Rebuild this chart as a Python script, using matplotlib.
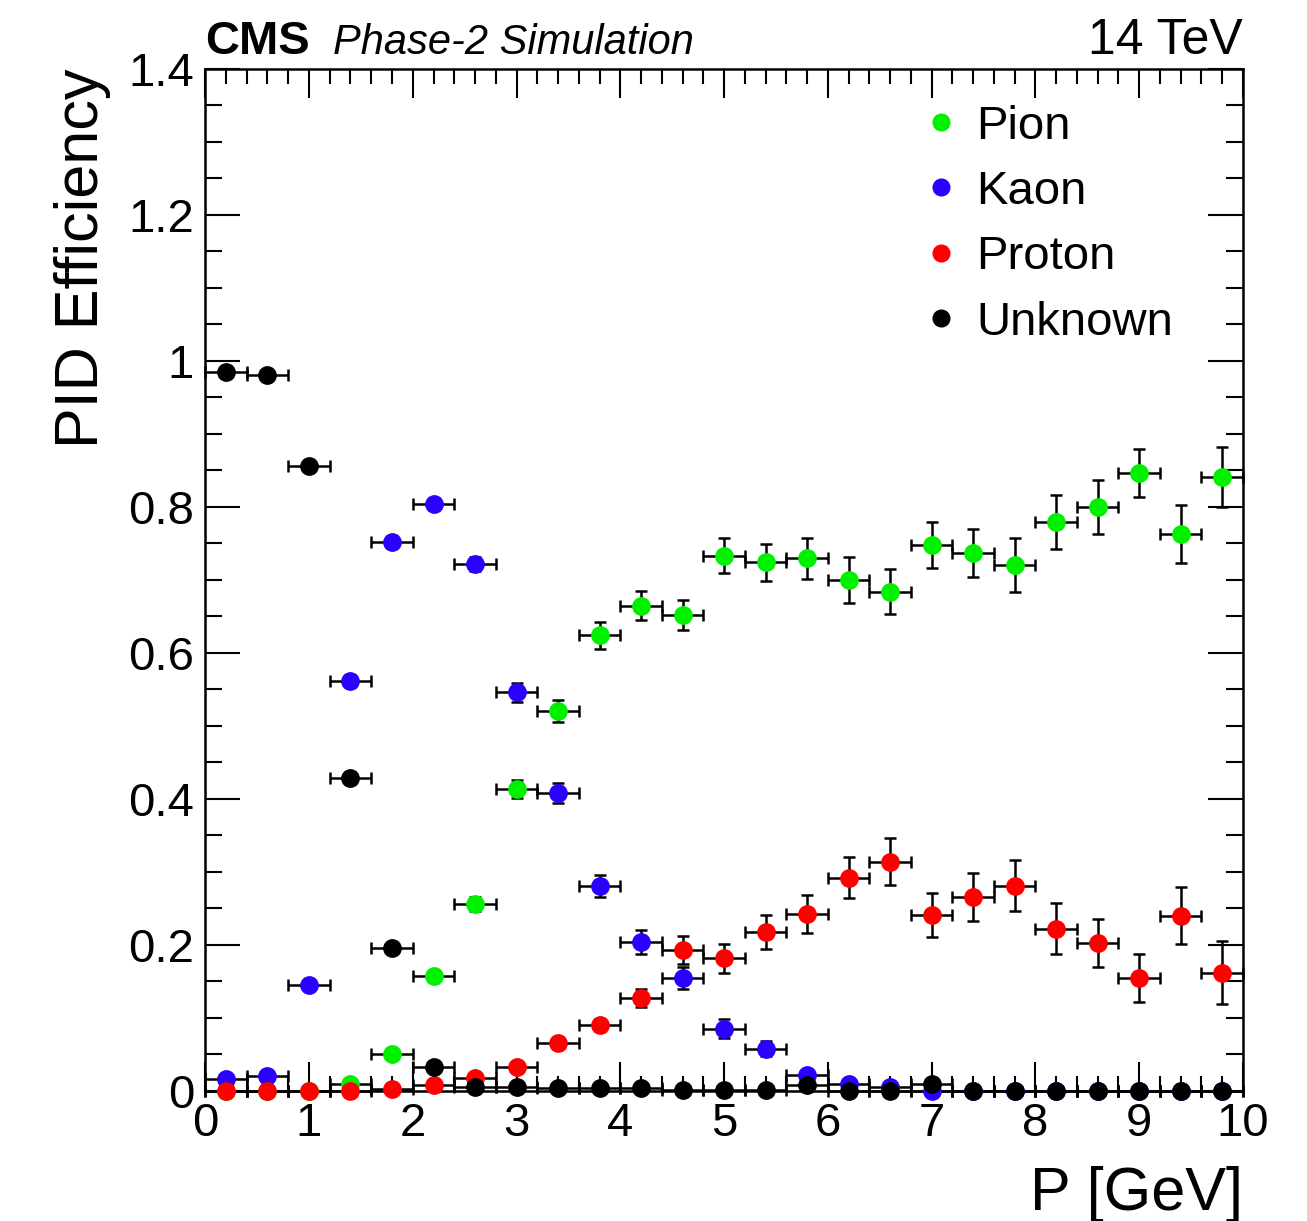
import matplotlib
matplotlib.use("Agg")
import matplotlib.pyplot as plt
from matplotlib.ticker import MultipleLocator
from matplotlib.lines import Line2D

plt.rcParams['font.family'] = ['Liberation Sans', 'DejaVu Sans']

# bin centres in P [GeV], bin width 0.4
p = [0.2, 0.6, 1.0, 1.4, 1.8, 2.2, 2.6, 3.0, 3.4, 3.8, 4.2, 4.6, 5.0,
     5.4, 5.8, 6.2, 6.6, 7.0, 7.4, 7.8, 8.2, 8.6, 9.0, 9.4, 9.8]
p_err = [0.2] * len(p)

pion = [0.0, 0.0, 0.0, 0.01, 0.05, 0.158, 0.256, 0.414, 0.52, 0.624, 0.665, 0.652,
        0.733, 0.724, 0.73, 0.70, 0.684, 0.748, 0.737, 0.72, 0.78, 0.80, 0.847, 0.763, 0.841]
pion_err = [0.0, 0.0, 0.0, 0.003, 0.005, 0.006, 0.01, 0.012, 0.015, 0.018, 0.02, 0.021,
            0.024, 0.025, 0.028, 0.031, 0.031, 0.031, 0.033, 0.037, 0.037, 0.037, 0.033, 0.04, 0.041]

kaon = [0.016, 0.02, 0.145, 0.562, 0.752, 0.804, 0.722, 0.546, 0.408, 0.281, 0.204, 0.155,
        0.085, 0.058, 0.022, 0.01, 0.005, 0.0, 0.0, 0.0, 0.0, 0.0, 0.0, 0.0, 0.0]
kaon_err = [0.002, 0.003, 0.005, 0.008, 0.008, 0.008, 0.01, 0.013, 0.014, 0.015, 0.016, 0.015,
            0.013, 0.01, 0.006, 0.004, 0.003, 0.002, 0.0, 0.0, 0.0, 0.0, 0.0, 0.0, 0.0]

proton = [0.0, 0.0, 0.0, 0.0, 0.003, 0.008, 0.018, 0.033, 0.066, 0.09, 0.127, 0.193,
          0.182, 0.218, 0.242, 0.292, 0.314, 0.241, 0.266, 0.281, 0.222, 0.203, 0.155, 0.24, 0.162]
proton_err = [0.0, 0.0, 0.0, 0.0, 0.001, 0.002, 0.003, 0.005, 0.006, 0.008, 0.012, 0.019,
              0.02, 0.023, 0.026, 0.028, 0.032, 0.03, 0.033, 0.035, 0.035, 0.033, 0.033, 0.039, 0.043]

unknown = [0.985, 0.981, 0.856, 0.429, 0.196, 0.033, 0.005, 0.005, 0.004, 0.004, 0.004, 0.002,
           0.002, 0.002, 0.008, 0.0, 0.0, 0.01, 0.0, 0.0, 0.0, 0.0, 0.0, 0.0, 0.0]
unknown_err = [0.002, 0.003, 0.005, 0.008, 0.007, 0.004, 0.002, 0.002, 0.002, 0.002, 0.002, 0.002,
               0.002, 0.002, 0.004, 0.0, 0.0, 0.008, 0.0, 0.0, 0.0, 0.0, 0.0, 0.0, 0.0]

labels = ["Pion", "Kaon", "Proton", "Unknown"]
colors = ["#00f000", "#2a00ff", "#ff0000", "#000000"]

fig = plt.figure(figsize=(13.07, 12.21), dpi=100)
ax = fig.add_axes([0.157, 0.1065, 0.794, 0.837])

series = [(pion, pion_err), (kaon, kaon_err), (proton, proton_err), (unknown, unknown_err)]
for (vals, errs), col, lab in zip(series, colors, labels):
    ax.errorbar(p, vals, xerr=p_err, yerr=errs, fmt='o', color=col, ms=12.5,
                mec=col, ecolor='black', elinewidth=1.8, capsize=4.5, capthick=1.8,
                clip_on=False, zorder=3)

ax.set_xlim(0, 10)
ax.set_ylim(0, 1.4)

ax.xaxis.set_major_locator(MultipleLocator(1))
ax.xaxis.set_minor_locator(MultipleLocator(0.2))
ax.yaxis.set_major_locator(MultipleLocator(0.2))
ax.yaxis.set_minor_locator(MultipleLocator(0.05))
ax.yaxis.set_major_formatter(plt.FuncFormatter(lambda v, pos: "0" if v == 0 else ("1" if abs(v - 1) < 1e-9 else f"{v:.1f}")))

ax.tick_params(axis='both', which='both', direction='in', top=True, right=True,
               width=1.5, labelsize=34)
ax.tick_params(axis='x', which='major', length=21, pad=8)
ax.tick_params(axis='x', which='minor', length=11)
ax.tick_params(axis='y', which='major', length=25, pad=8)
ax.tick_params(axis='y', which='minor', length=12)
for s in ax.spines.values():
    s.set_linewidth(1.8)

ax.set_xlabel("P [GeV]", fontsize=44, loc='right', labelpad=14)
ax.set_ylabel("PID Efficiency", fontsize=44, loc='top', labelpad=12)

ax.text(0.0, 1.0147, "CMS", transform=ax.transAxes, fontsize=34, fontweight='bold',
        ha='left', va='baseline')
ax.text(0.123, 1.0147, "Phase-2 Simulation", transform=ax.transAxes, fontsize=30,
        style='italic', ha='left', va='baseline')
ax.text(1.0, 1.0147, "14 TeV", transform=ax.transAxes, fontsize=36, ha='right', va='baseline')

handles = [Line2D([], [], ls='none', marker='o', ms=12, color=c) for c in colors]
ax.legend(handles, labels, loc='upper left', bbox_to_anchor=(0.695, 0.965), frameon=False,
          fontsize=34, handlelength=0.6, handletextpad=0.45, labelspacing=0.45,
          borderaxespad=0, borderpad=0)

fig.savefig("out.png", dpi=100)
